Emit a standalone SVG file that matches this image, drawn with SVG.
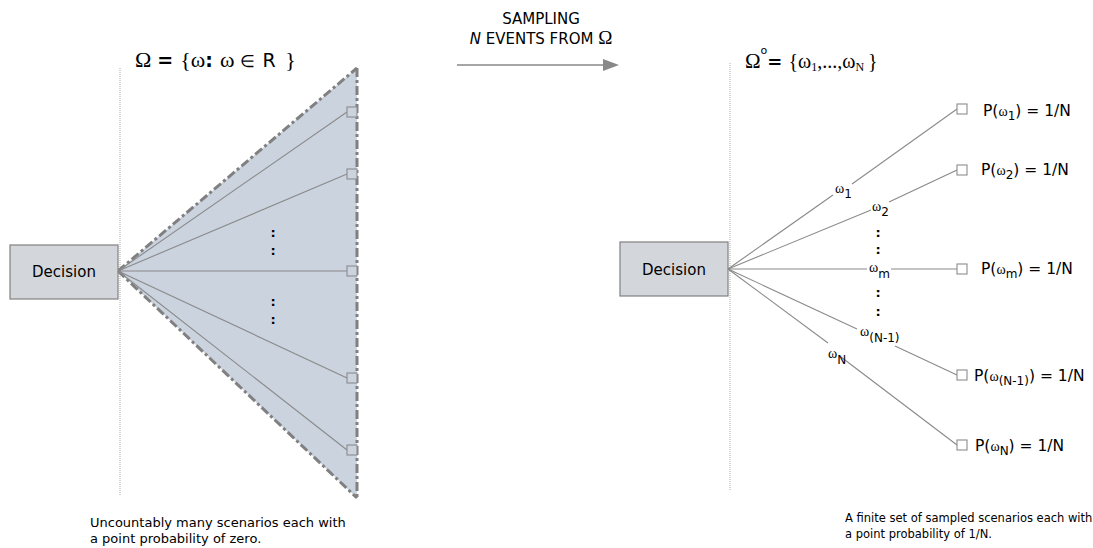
<svg xmlns="http://www.w3.org/2000/svg" width="1093" height="548" viewBox="0 0 1093 548">
<style>
  .sans { font-family: "DejaVu Sans", Verdana, sans-serif; fill: #000; }
  .serif { font-family: "Liberation Serif", "Times New Roman", serif; fill: #000; }
  .box { fill: #d3d7db; stroke: #808080; stroke-width: 1.2; }
  .guide { stroke: #c8c8c8; stroke-width: 1.5; stroke-dasharray: 1 1; fill: none; }
  .edge { stroke: #8a8a8a; stroke-width: 1.1; fill: none; }
  .leaf { fill: #ffffff; stroke: #8c8c8c; stroke-width: 1.1; }
  .leafL { fill: #cbd3df; stroke: #8c8c8c; stroke-width: 1.1; }
  .fan { fill: #cbd3df; stroke: none; }
  .dashdot { stroke: #808080; stroke-width: 3; stroke-dasharray: 9 3 3 3; fill: none; }
  .lbl { font-size: 15.5px; }
  .sub { font-size: 12px; }
  .dots { font-size: 13px; font-weight: bold; }
</style>
<defs>
  <marker id="arrowhead" markerWidth="16" markerHeight="12" refX="0" refY="6" orient="auto" markerUnits="userSpaceOnUse">
    <path d="M0,0 L16,6 L0,12 Z" fill="#888888"/>
  </marker>
</defs>

<!-- guides -->
<line class="guide" x1="120" y1="68" x2="120" y2="495"/>
<line class="guide" x1="730" y1="63" x2="730" y2="490"/>

<!-- Left: continuous scenario fan -->
<g id="left-fan">
  <polygon class="fan" points="118,271 357,68 357,498"/>
  <line class="dashdot" x1="118" y1="271" x2="357" y2="68"/>
  <line class="dashdot" x1="118" y1="271" x2="357" y2="498"/>
  <line class="dashdot" x1="357" y1="68" x2="357" y2="498"/>
</g>

<g id="connectors">
  <line class="edge" x1="118" y1="271" x2="347" y2="112"/>
  <line class="edge" x1="118" y1="271" x2="347" y2="174"/>
  <line class="edge" x1="118" y1="271" x2="347" y2="271"/>
  <line class="edge" x1="118" y1="271" x2="347" y2="378"/>
  <line class="edge" x1="118" y1="271" x2="347" y2="450"/>

  <polyline class="edge" points="728,269 833,195"/>
  <polyline class="edge" points="852,184 957,109"/>
  <polyline class="edge" points="728,269 871,210"/>
  <polyline class="edge" points="889,202 957,170"/>
  <polyline class="edge" points="728,269 867,269"/>
  <polyline class="edge" points="891,269 957,269"/>
  <polyline class="edge" points="728,269 857,329"/>
  <polyline class="edge" points="895,346 957,375"/>
  <polyline class="edge" points="728,269 828,343"/>
  <polyline class="edge" points="841,357 957,445"/>

  <line x1="457" y1="65" x2="603" y2="65" stroke="#888888" stroke-width="1.5" marker-end="url(#arrowhead)"/>
</g>

<g id="left-decision">
  <rect class="box" x="10" y="245" width="108" height="54"/>
  <text class="sans" x="64" y="277" font-size="15" text-anchor="middle">Decision</text>
</g>

<g id="left-outcomes">
  <rect class="leafL" x="347" y="107" width="10" height="10"/>
  <rect class="leafL" x="347" y="169" width="10" height="10"/>
  <rect class="leafL" x="347" y="266" width="10" height="10"/>
  <rect class="leafL" x="347" y="373" width="10" height="10"/>
  <rect class="leafL" x="347" y="445" width="10" height="10"/>
  <text class="sans dots" x="273" y="237" text-anchor="middle">:</text>
  <text class="sans dots" x="273" y="255" text-anchor="middle">:</text>
  <text class="sans dots" x="273" y="306" text-anchor="middle">:</text>
  <text class="sans dots" x="273" y="324" text-anchor="middle">:</text>
</g>

<g id="left-title">
  <text x="135" y="67"><tspan class="serif" font-size="22">Ω</tspan><tspan class="sans" font-size="19" font-weight="bold" dx="6">=</tspan><tspan class="serif" font-size="22" dx="7">{ω</tspan><tspan class="sans" font-size="19" font-weight="bold">:</tspan><tspan class="serif" font-size="22" dx="7">ω</tspan><tspan class="serif" font-size="17" dx="6">∈</tspan><tspan class="sans" font-size="19" dx="7">R</tspan><tspan class="serif" font-size="22" dx="4"> }</tspan></text>
</g>

<g id="left-caption">
  <text class="sans" x="90" y="527" font-size="13">Uncountably many scenarios each with</text>
  <text class="sans" x="90" y="543" font-size="13">a point probability of zero.</text>
</g>

<g id="sampling-arrow">
  <text class="sans" x="541" y="24" font-size="15" text-anchor="middle">SAMPLING</text>
  <text x="541" y="44" text-anchor="middle"><tspan class="sans" font-size="15" font-style="italic">N</tspan><tspan class="sans" font-size="15"> EVENTS FROM </tspan><tspan class="serif" font-size="19">Ω</tspan></text>
</g>

<g id="right-decision">
  <rect class="box" x="620" y="242" width="108" height="54"/>
  <text class="sans" x="674" y="275" font-size="15" text-anchor="middle">Decision</text>
</g>

<g id="right-title">
  <text x="745" y="68"><tspan class="serif" font-size="21">Ω</tspan><tspan class="sans" font-size="11" dy="-14">o</tspan><tspan class="sans" font-size="18" font-weight="bold" dy="14" dx="0">=</tspan><tspan class="serif" font-size="20" dx="6">{ω</tspan><tspan class="serif" font-size="12" dy="3">1</tspan><tspan class="serif" font-size="20" dy="-3">,...,ω</tspan><tspan class="serif" font-size="12" dy="3">N</tspan><tspan class="serif" font-size="20" dy="-3" dx="4">}</tspan></text>
</g>

<g id="edge-labels">
  <text x="835" y="193"><tspan class="serif" font-size="14">ω</tspan><tspan class="sans sub" dy="5">1</tspan></text>
  <text x="872" y="211"><tspan class="serif" font-size="14">ω</tspan><tspan class="sans sub" dy="5">2</tspan></text>
  <text x="869" y="272"><tspan class="serif" font-size="14">ω</tspan><tspan class="sans sub" dy="6">m</tspan></text>
  <text x="860" y="336"><tspan class="serif" font-size="14">ω</tspan><tspan class="sans sub" dy="6">(N-1)</tspan></text>
  <text x="828" y="358"><tspan class="serif" font-size="14">ω</tspan><tspan class="sans sub" dy="6">N</tspan></text>
  <text class="sans dots" x="878" y="237" text-anchor="middle">:</text>
  <text class="sans dots" x="878" y="254" text-anchor="middle">:</text>
  <text class="sans dots" x="878" y="297" text-anchor="middle">:</text>
  <text class="sans dots" x="878" y="316" text-anchor="middle">:</text>
</g>

<g id="outcome-1">
  <rect class="leaf" x="957" y="104" width="10" height="10"/>
  <text x="983" y="116"><tspan class="sans lbl">P(</tspan><tspan class="serif" font-size="14">ω</tspan><tspan class="sans sub" dy="4">1</tspan><tspan class="sans lbl" dy="-4">) = 1/N</tspan></text>
</g>
<g id="outcome-2">
  <rect class="leaf" x="957" y="165" width="10" height="10"/>
  <text x="981" y="175"><tspan class="sans lbl">P(</tspan><tspan class="serif" font-size="14">ω</tspan><tspan class="sans sub" dy="4">2</tspan><tspan class="sans lbl" dy="-4">) = 1/N</tspan></text>
</g>
<g id="outcome-m">
  <rect class="leaf" x="957" y="264" width="10" height="10"/>
  <text x="981" y="274"><tspan class="sans lbl">P(</tspan><tspan class="serif" font-size="14">ω</tspan><tspan class="sans sub" dy="4">m</tspan><tspan class="sans lbl" dy="-4">) = 1/N</tspan></text>
</g>
<g id="outcome-n-1">
  <rect class="leaf" x="957" y="370" width="10" height="10"/>
  <text x="974" y="381"><tspan class="sans lbl">P(</tspan><tspan class="serif" font-size="14">ω</tspan><tspan class="sans sub" dy="4">(N-1)</tspan><tspan class="sans lbl" dy="-4">) = 1/N</tspan></text>
</g>
<g id="outcome-n">
  <rect class="leaf" x="957" y="440" width="10" height="10"/>
  <text x="975" y="451"><tspan class="sans lbl">P(</tspan><tspan class="serif" font-size="14">ω</tspan><tspan class="sans sub" dy="4">N</tspan><tspan class="sans lbl" dy="-4">) = 1/N</tspan></text>
</g>

<g id="right-caption">
  <text class="sans" x="845" y="522" font-size="11.5">A finite set of sampled scenarios each with</text>
  <text class="sans" x="845" y="538" font-size="11.5">a point probability of 1/N.</text>
</g>
</svg>
